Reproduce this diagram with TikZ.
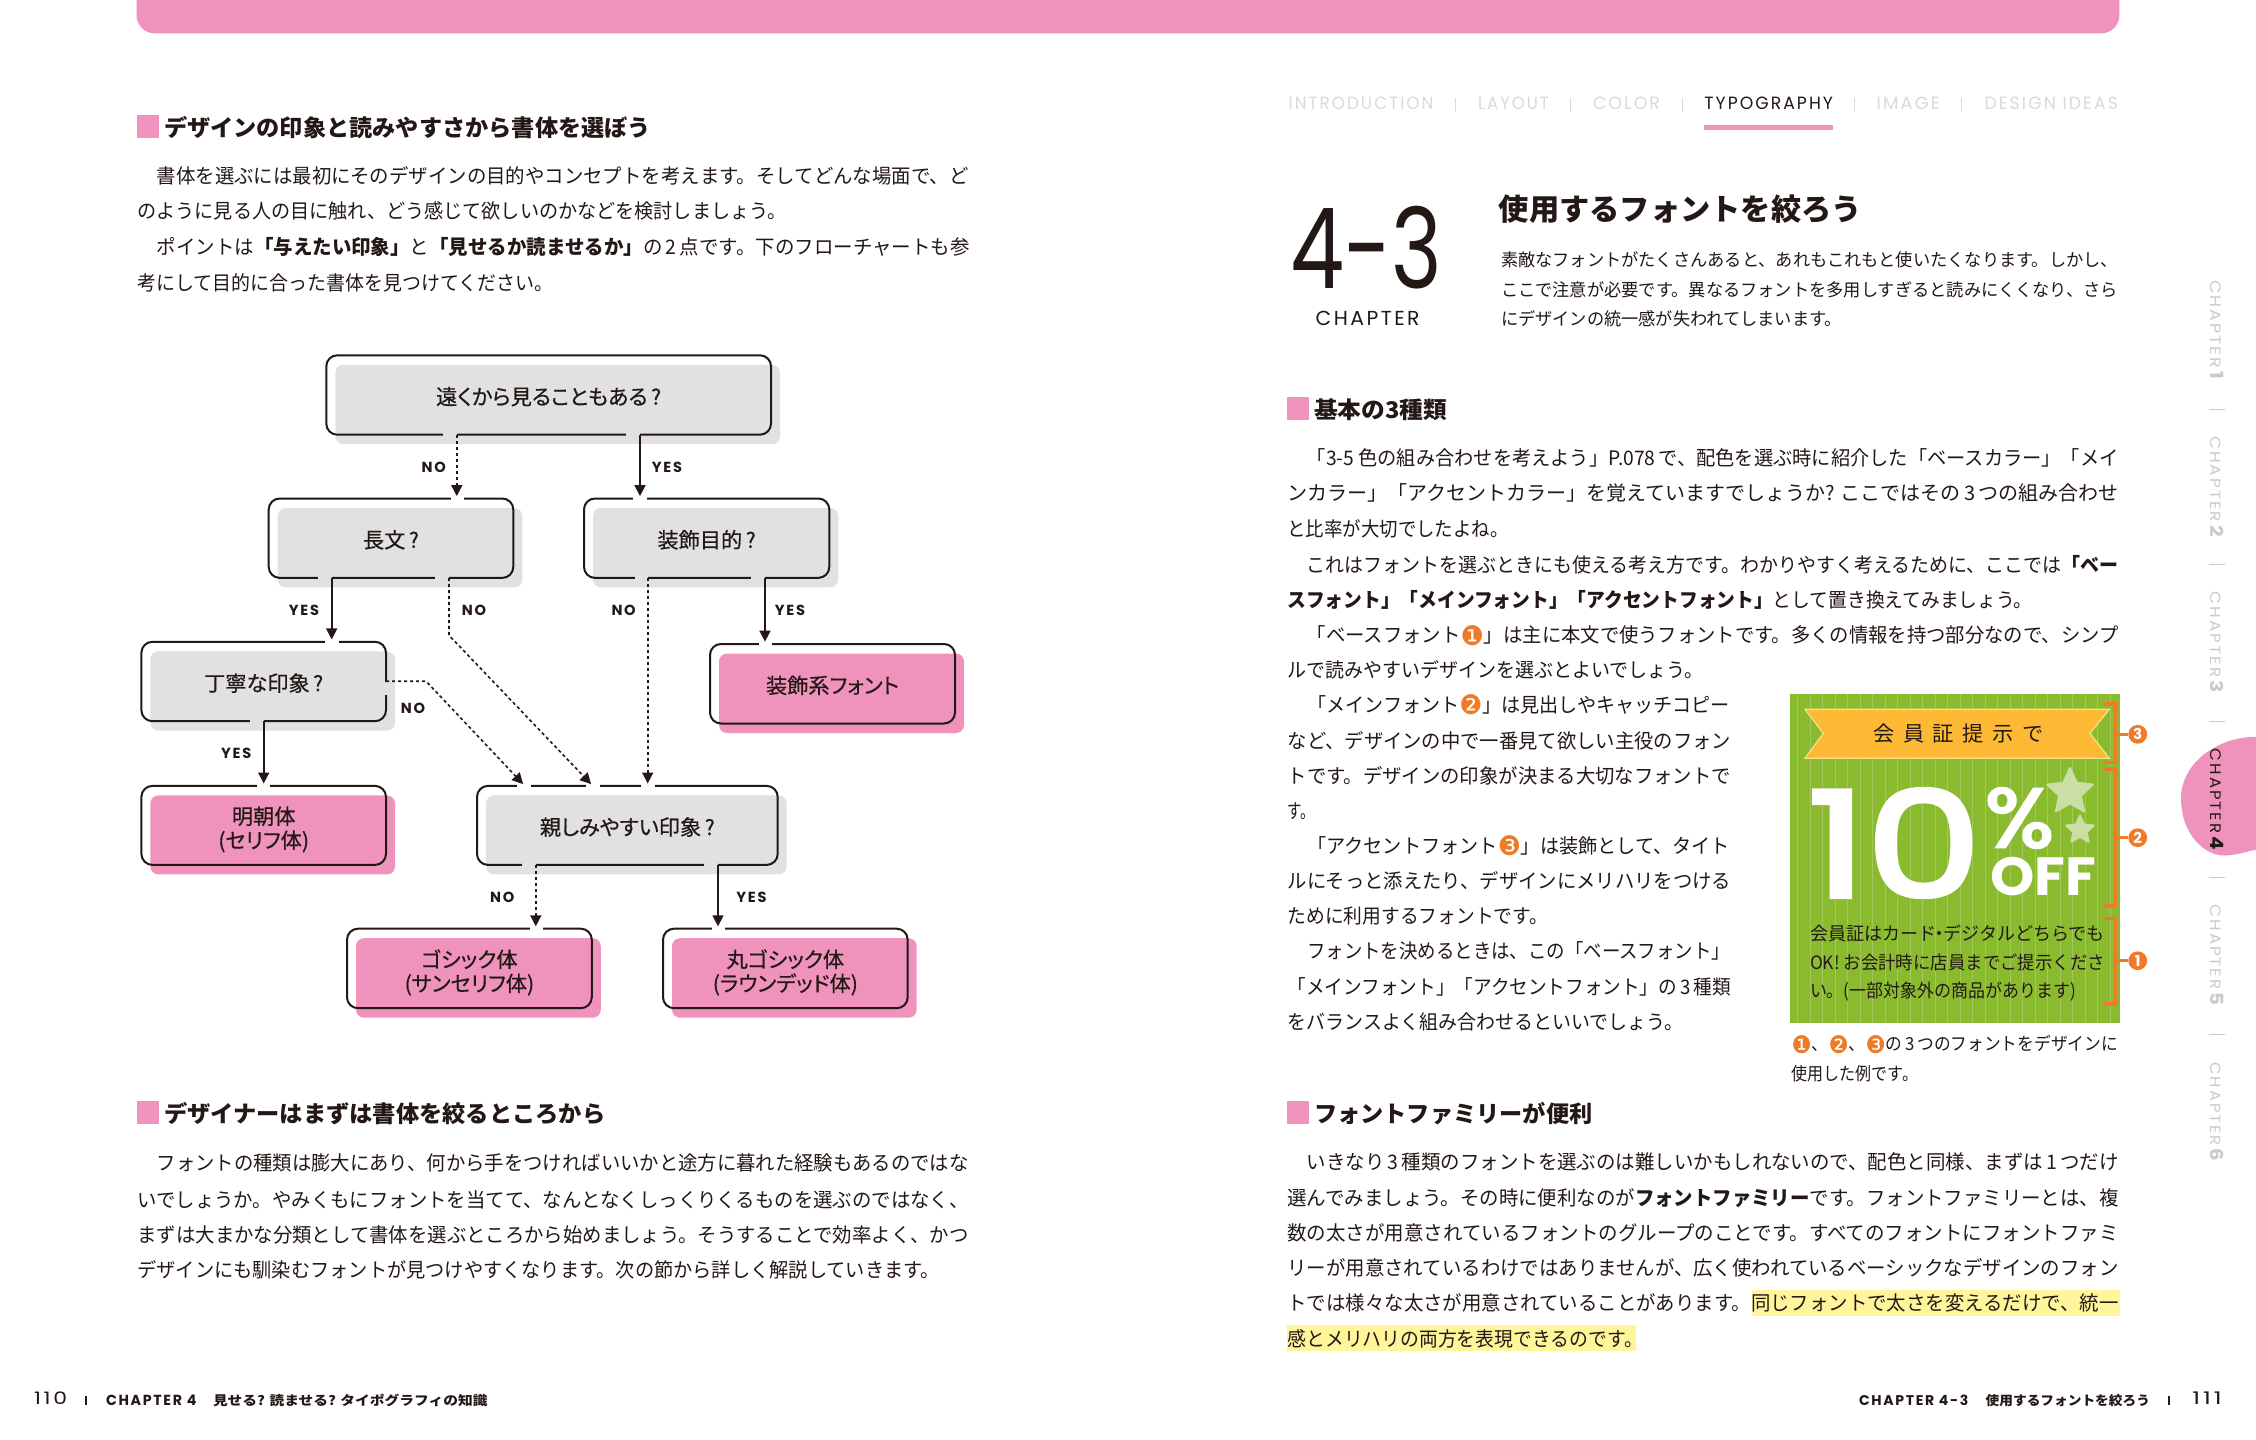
\documentclass[tikz,border=0pt]{standalone}
\usepackage{fontspec}
\usepackage{graphicx}
\usetikzlibrary{arrows.meta,shapes.geometric}
\setmainfont{Noto Sans CJK JP}
\newfontfamily\paltf[RawFeature=+palt,FakeBold=0.5]{Noto Sans CJK JP}
\newfontfamily\pop{Poppins}
\newfontfamily\popsp[LetterSpace=12]{Poppins}
\newfontfamily\popfat[FakeBold=3]{Poppins}
\newfontfamily\dvfont{DejaVu Sans}
\newfontfamily\banf[LetterSpace=40]{Noto Sans CJK JP}
\definecolor{ink}{HTML}{231815}
\definecolor{pinkc}{HTML}{F093BC}
\definecolor{grayf}{HTML}{E1E1E1}
\definecolor{navg}{HTML}{D9DADA}
\definecolor{sideg}{HTML}{C9CACA}
\definecolor{orng}{HTML}{EF7B28}
\definecolor{greenc}{HTML}{8ABB2F}
\definecolor{banc}{HTML}{FDB933}
\definecolor{banl}{HTML}{FBDE8B}
\definecolor{starc}{HTML}{CADFA4}
\definecolor{markc}{HTML}{FFF59B}
\newcount\tn
% sized, width-fitted line of text: size(px) x1 x2 ycentre text
\newcommand\tx[5]{%
  \global\advance\tn by 1
  \pgfmathsetmacro{\twd}{(#3-#2)*0.5}%
  \node[txt,anchor=base west] (t\the\tn) at ({#2},{#4+0.41*#1})
    {\resizebox{\twd pt}{\height}{\fontsize{\fpeval{#1/2}}{\fpeval{#1/2}}\selectfont #5}};}
% body line
\newcommand\bl[4]{\tx{20}{#1}{#2}{#3}{#4}}
% box-fitted text: x1 y1 x2 y2(baseline) text
\newcommand\fitx[5]{%
  \global\advance\tn by 1
  \pgfmathsetmacro{\twd}{(#3-#1)*0.5}\pgfmathsetmacro{\tht}{(#4-#2)*0.5}%
  \node[txt,anchor=base west] (t\the\tn) at ({#1},{#4}) {\resizebox{\twd pt}{\tht pt}{\fontsize{20}{20}\selectfont #5}};}
\newcommand\head[5]{%
  \fill[pinkc] (#1,#3) rectangle (#1+22.5,#3+22.7);
  \tx{23}{#2}{#4}{#3+11.8}{\bfseries #5}}
% name x1 y1 x2 y2 fill text dy
\newcommand\flow[8]{%
  \fill[#6,rounded corners=4pt] (#2+9,#3+9.5) rectangle (#4+9,#5+9.5);
  \node[outl,minimum width={(#4-#2)*0.5pt},minimum height={(#5-#3)*0.5pt}] (#1) at ({(#2+#4)/2},{(#3+#5)/2}) {};
  \node[ftxt] (#1t) at ({(#2+#4)/2},{(#3+#5)/2+#8}) {#7};}
\newcommand\gp[4]{\draw[#4,line width=1.7pt] (#1,#3) -- (#2,#3);}
\newcommand\lab[3]{\global\advance\tn by 1 \node[lbl] (t\the\tn) at (#1,#2) {#3};}
\newcommand\chp[4]{%
  \global\advance\tn by 1
  \pgfmathsetmacro{\twd}{(#2-#1)*0.5}%
  \node[txt,rotate=-90,text=#4] (t\the\tn) at ({2217.5},{(#1+#2)/2}) {\resizebox{\twd pt}{6.6pt}{\fontsize{10}{10}\selectfont\popsp CHAPTER\,{\fontsize{12}{12}\selectfont\bfseries #3}}};}
\newcommand\cn[1]{\raisebox{-0.13em}{\scalebox{1.35}{\dvfont\textcolor{orng}{#1}}}}
\newcommand\brk[4]{% y1 y2 ycircle digit
  \draw[orng,line width=1.7pt] (2103.5,#1) -- (2115.5,#1) -- (2115.5,#2) -- (2103.5,#2);
  \global\advance\tn by 1
  \node[circle,fill=orng,inner sep=0pt,minimum size=9.4pt,text=white,font=\pop\bfseries\fontsize{7.5}{7.5}\selectfont] (t\the\tn) at (2137.7,#3) {#4};
  \draw[orng,line width=1.7pt] (2115.5,#3) -- (t\the\tn);}
\begin{document}
\begin{tikzpicture}[x=0.5pt,y=-0.5pt,
  txt/.style={inner sep=0pt,outer sep=0pt,text=ink},
  outl/.style={draw=ink,line width=1pt,rounded corners=5.5pt,inner sep=0pt,outer sep=0pt},
  ftxt/.style={inner sep=0pt,outer sep=0pt,align=center,text=ink,font=\paltf\fontsize{10.6}{12}\selectfont},
  lbl/.style={inner sep=0pt,text=ink,font=\popsp\bfseries\fontsize{7.3}{8}\selectfont},
  yesln/.style={draw=ink,line width=0.85pt,-{Triangle[length=5.5pt,width=5.5pt]},shorten >=1.2pt},
  noln/.style={draw=ink,line width=0.8pt,dash pattern=on 1.6pt off 1.4pt,-{Triangle[length=5.5pt,width=5.5pt,sep=0pt]},shorten >=1.2pt},
  sep/.style={line width=0.5pt}]
\useasboundingbox (0,0) rectangle (2256,1440);
\fill[white] (0,0) rectangle (2256,1440);
% top bar
\fill[pinkc,rounded corners=9pt] (136.5,-40) rectangle (2119.4,33.3);

% ---------- left page
\head{136.5}{164}{115}{651}{デザインの印象と読みやすさから書体を選ぼう}
\bl{156.8}{968.6}{175.7}{書体を選ぶには最初にそのデザインの目的やコンセプトを考えます。そしてどんな場面で、ど}
\bl{137.5}{786.5}{210.7}{のように見る人の目に触れ、どう感じて欲しいのかなどを検討しましょう。}
\bl{156.8}{969.7}{246.7}{ポイントは{\bfseries 「与えたい印象」}と{\bfseries 「見せるか読ませるか」}の\,2\,点です。下のフローチャートも参}
\bl{137.5}{553.3}{282.3}{考にして目的に合った書体を見つけてください。}

% flowchart
\flow{b1}{326.3}{355.3}{771}{434.7}{grayf}{遠くから見ることもある\,?}{1.6}
\flow{b2}{268.7}{498.5}{513.3}{577.9}{grayf}{長文\,?}{1.6}
\flow{b3}{584}{498.5}{829.3}{577.9}{grayf}{装飾目的\,?}{1.6}
\flow{b4}{141.4}{641.8}{386}{721.2}{grayf}{丁寧な印象\,?}{1.6}
\flow{b5}{710}{644}{955}{723.5}{pinkc}{装飾系フォント}{1.6}
\flow{b6}{141.4}{785.9}{386}{864.9}{pinkc}{明朝体\\(セリフ体)}{4}
\flow{b7}{477}{785.9}{777.7}{864.9}{grayf}{親しみやすい印象\,?}{1.6}
\flow{b8}{347}{928.7}{591.8}{1008.2}{pinkc}{ゴシック体\\(サンセリフ体)}{4}
\flow{b9}{663}{928.7}{907.7}{1008.2}{pinkc}{丸ゴシック体\\(ラウンデッド体)}{4}
% gaps in the outlines
\gp{443}{456.8}{434.7}{grayf}\gp{625.8}{640}{434.7}{grayf}
\gp{451.3}{464}{498.5}{white}\gp{318}{331.7}{577.9}{grayf}\gp{434.9}{449}{577.9}{grayf}
\gp{633.4}{646.6}{498.5}{white}\gp{634.5}{647.7}{577.9}{grayf}\gp{750.8}{765}{577.9}{grayf}
\gp{325}{338.9}{641.8}{white}\gp{249.5}{263.7}{721.2}{grayf}
\draw[grayf,line width=1.7pt] (386,681.7) -- (386,695);
\gp{759}{772}{644}{white}\gp{257}{270.3}{785.9}{white}
\gp{516.6}{531}{785.9}{white}\gp{586.3}{600}{785.9}{white}\gp{641}{654.8}{785.9}{white}
\gp{522}{535.8}{864.9}{grayf}\gp{704}{718}{864.9}{grayf}
\gp{530.3}{543}{928.7}{white}\gp{712}{725}{928.7}{white}
% connector columns
\coordinate (ca) at (456.8,0);\coordinate (cb) at (640,0);
\coordinate (cc) at (331.7,0);\coordinate (cd) at (449,0);
\coordinate (ce) at (647.7,0);\coordinate (cf) at (765,0);
\coordinate (cg) at (263.7,0);\coordinate (ch) at (535.8,0);\coordinate (ci) at (718,0);
\coordinate (ej) at (449,635.3);\coordinate (tj) at (592.8,0);
\coordinate (sk) at (386,681.2);\coordinate (ek) at (426,681.2);\coordinate (tk) at (524.8,0);
\draw[noln] (ca |- b1.south) -- (ca |- b2.north);
\draw[yesln] (cb |- b1.south) -- (cb |- b3.north);
\draw[yesln] (cc |- b2.south) -- (cc |- b4.north);
\draw[noln] (cd |- b2.south) -- (ej) -- (tj |- b7.north);
\draw[noln] (ce |- b3.south) -- (ce |- b7.north);
\draw[yesln] (cf |- b3.south) -- (cf |- b5.north);
\draw[yesln] (cg |- b4.south) -- (cg |- b6.north);
\draw[noln] (sk) -- (ek) -- (tk |- b7.north);
\draw[noln] (ch |- b7.south) -- (ch |- b8.north);
\draw[yesln] (ci |- b7.south) -- (ci |- b9.north);
\lab{433.8}{467.3}{NO}\lab{667}{467.3}{YES}
\lab{304}{610}{YES}\lab{474}{610}{NO}\lab{623.6}{610}{NO}\lab{790}{610}{YES}
\lab{413}{708.3}{NO}\lab{236.3}{752.9}{YES}
\lab{502.3}{897}{NO}\lab{751.4}{897}{YES}

\head{136.5}{164}{1101}{605.5}{デザイナーはまずは書体を絞るところから}
\bl{156.8}{968.6}{1162.7}{フォントの種類は膨大にあり、何から手をつければいいかと途方に暮れた経験もあるのではな}
\bl{137.5}{968.6}{1199}{いでしょうか。やみくもにフォントを当てて、なんとなくしっくりくるものを選ぶのではなく、}
\bl{137.5}{968.6}{1234.3}{まずは大まかな分類として書体を選ぶところから始めましょう。そうすることで効率よく、かつ}
\bl{137.5}{940}{1269}{デザインにも馴染むフォントが見つけやすくなります。次の節から詳しく解説していきます。}

% footer left
\fitx{34}{1391.7}{67}{1404.3}{\popsp 110}
\draw[ink,line width=0.8pt] (85.7,1396) -- (85.7,1404.5);
\fitx{106}{1394.5}{196.4}{1405}{\popsp\bfseries CHAPTER 4}
\tx{13}{213}{487.5}{1400}{\bfseries 見せる? 読ませる? タイポグラフィの知識}

% ---------- right page: navigation
\fitx{1288.7}{97}{1433.4}{109.5}{\color{navg}\popsp INTRODUCTION}
\draw[navg,sep] (1455.8,98) -- (1455.8,112);
\fitx{1478}{97}{1548.8}{109.5}{\color{navg}\popsp LAYOUT}
\draw[navg,sep] (1570.6,98) -- (1570.6,112);
\fitx{1593}{97}{1660}{109.5}{\color{navg}\popsp COLOR}
\draw[navg,sep] (1682.5,98) -- (1682.5,112);
\fitx{1704.3}{97}{1833}{109.5}{\popsp TYPOGRAPHY}
\fill[pinkc] (1704.3,125) rectangle (1833,130);
\draw[navg,sep] (1854.7,98) -- (1854.7,112);
\fitx{1876.5}{97}{1940}{109.5}{\color{navg}\popsp IMAGE}
\draw[navg,sep] (1961.5,98) -- (1961.5,112);
\fitx{1984.5}{97}{2118}{109.5}{\color{navg}\popsp DESIGN IDEAS}

% chapter title
\fitx{1290}{206}{1442}{288.3}{\pop 4-3}
\fitx{1315.7}{310.7}{1419.6}{325}{\popsp CHAPTER}
\tx{30}{1498.8}{1862}{208}{\bfseries 使用するフォントを絞ろう}
\tx{17.6}{1501}{2118}{259}{素敵なフォントがたくさんあると、あれもこれもと使いたくなります。しかし、}
\tx{17.6}{1501}{2118}{289}{ここで注意が必要です。異なるフォントを多用しすぎると読みにくくなり、さら}
\tx{17.6}{1501}{1842}{318.3}{にデザインの統一感が失われてしまいます。}

\head{1286.5}{1314}{397.3}{1447}{基本の3種類}
\bl{1306.8}{2118.6}{457.3}{「3-5 色の組み合わせを考えよう」P.078\,で、配色を選ぶ時に紹介した「ベースカラー」「メイ}
\bl{1287.5}{2118.6}{492.7}{ンカラー」「アクセントカラー」を覚えていますでしょうか? ここではその\,3\,つの組み合わせ}
\bl{1287.5}{1508.6}{528.3}{と比率が大切でしたよね。}
\bl{1306.8}{2118.6}{564}{これはフォントを選ぶときにも使える考え方です。わかりやすく考えるために、ここでは{\bfseries 「ベー}}
\bl{1287.5}{2032.5}{599.3}{{\bfseries スフォント」「メインフォント」「アクセントフォント」}として置き換えてみましょう。}
\bl{1306.8}{2118.6}{634.3}{「ベースフォント\cn{❶}」は主に本文で使うフォントです。多くの情報を持つ部分なので、シンプ}
\bl{1287.5}{1703.3}{669}{ルで読みやすいデザインを選ぶとよいでしょう。}
\bl{1307.3}{1730}{704}{「メインフォント\cn{❷}」は見出しやキャッチコピー}
\bl{1287.7}{1731}{740}{など、デザインの中で一番見て欲しい主役のフォン}
\bl{1287.7}{1731}{775}{トです。デザインの印象が決まる大切なフォントで}
\bl{1287.7}{1315}{810}{す。}
\bl{1307.3}{1730}{845}{「アクセントフォント\cn{❸}」は装飾として、タイト}
\bl{1287.7}{1731}{880.7}{ルにそっと添えたり、デザインにメリハリをつける}
\bl{1287.7}{1548.3}{915.7}{ために利用するフォントです。}
\bl{1307.3}{1730}{950.7}{フォントを決めるときは、この「ベースフォント」}
\bl{1287.7}{1731}{986}{「メインフォント」「アクセントフォント」の\,3\,種類}
\bl{1287.7}{1683.3}{1021.7}{をバランスよく組み合わせるといいでしょう。}

% green card
\fill[greenc] (1790,694) rectangle (2120,1022.7);
\foreach \k in {0,...,25} \draw[white,opacity=0.22,line width=0.35pt] ({1797.5+12.5*\k},694) -- ({1797.5+12.5*\k},1022.7);
\draw[fill=banc,draw=banl,line width=0.6pt] (1805,709.3) -- (2109.3,709.3) -- (2090,733.3) -- (2109.3,758.3) -- (1805,758.3) -- (1823.3,733.3) -- cycle;
\tx{21}{1873.3}{2043.3}{733}{\banf 会員証提示で}
\node[star,star points=5,star point ratio=2.1,fill=starc,draw=starc,line join=round,line width=1pt,inner sep=0pt,minimum size=24pt] (s1) at (2070,792) {};
\node[star,star points=5,star point ratio=2.1,fill=starc,draw=starc,line join=round,line width=1pt,inner sep=0pt,minimum size=14.5pt] (s2) at (2080,830) {};
\fitx{1808}{789}{1981}{897}{\color{white}\popfat 10}
\fitx{1985}{788}{2054}{847}{\color{white}\popfat \%}
\fitx{1990}{856.7}{2096}{895}{\color{white}\pop\bfseries OFF}
\tx{18.4}{1810}{2105}{932.7}{会員証はカード\kern-0.3em・\kern-0.3emデジタルどちらでも}
\tx{18.4}{1810}{2105}{961.7}{OK! お会計時に店員までご提示くださ}
\tx{18.4}{1810}{2076}{990}{い。(一部対象外の商品があります)}
\brk{704}{762.7}{734.3}{3}
\brk{769}{906}{837.7}{2}
\brk{918.3}{1004}{960.7}{1}
\tx{18}{1791.7}{2118}{1043.3}{\cn{❶}、\cn{❷}、\cn{❸}の\,3\,つのフォントをデザインに}
\tx{18}{1791.7}{1918}{1073.3}{使用した例です。}

\head{1286.5}{1314}{1101}{1592.5}{フォントファミリーが便利}
\fill[markc] (1751.6,1290) rectangle (2120.3,1316);
\fill[markc] (1286.5,1325) rectangle (1636,1351);
\bl{1306.8}{2118.6}{1161.7}{いきなり\,3\,種類のフォントを選ぶのは難しいかもしれないので、配色と同様、まずは\,1\,つだけ}
\bl{1287.5}{2118.6}{1197.3}{選んでみましょう。その時に便利なのが{\bfseries フォントファミリー}です。フォントファミリーとは、複}
\bl{1287.5}{2118.6}{1232.7}{数の太さが用意されているフォントのグループのことです。すべてのフォントにフォントファミ}
\bl{1287.5}{2118.6}{1267.7}{リーが用意されているわけではありませんが、広く使われているベーシックなデザインのフォン}
\bl{1287.5}{2118.6}{1302.7}{トでは様々な太さが用意されていることがあります。同じフォントで太さを変えるだけで、統一}
\bl{1287.5}{1643}{1338.3}{感とメリハリの両方を表現できるのです。}

% footer right
\fitx{1859}{1394.5}{1968.3}{1405}{\popsp\bfseries CHAPTER 4-3}
\tx{13}{1985.7}{2150}{1400}{\bfseries 使用するフォントを絞ろう}
\draw[ink,line width=0.8pt] (2169,1396) -- (2169,1404.5);
\fitx{2192.3}{1391.7}{2221.7}{1404.3}{\popsp 111}

% side tabs
\fill[pinkc] (2256,736.8) .. controls (2215,737) and (2181,765) .. (2181,798) .. controls (2181,835) and (2205,856) .. (2225,855.5) .. controls (2240,855) and (2250,850) .. (2256,850) -- cycle;
\chp{280}{379}{1}{sideg}
\chp{436}{536.6}{2}{sideg}
\chp{591.7}{692.5}{3}{sideg}
\chp{748.8}{849.5}{4}{ink}
\chp{904.7}{1005.4}{5}{sideg}
\chp{1062.4}{1161}{6}{sideg}
\foreach \yy in {409.5,564.7,721.8,877,1034} \draw[sideg,sep] (2209,\yy) -- (2225,\yy);
\end{tikzpicture}
\end{document}
